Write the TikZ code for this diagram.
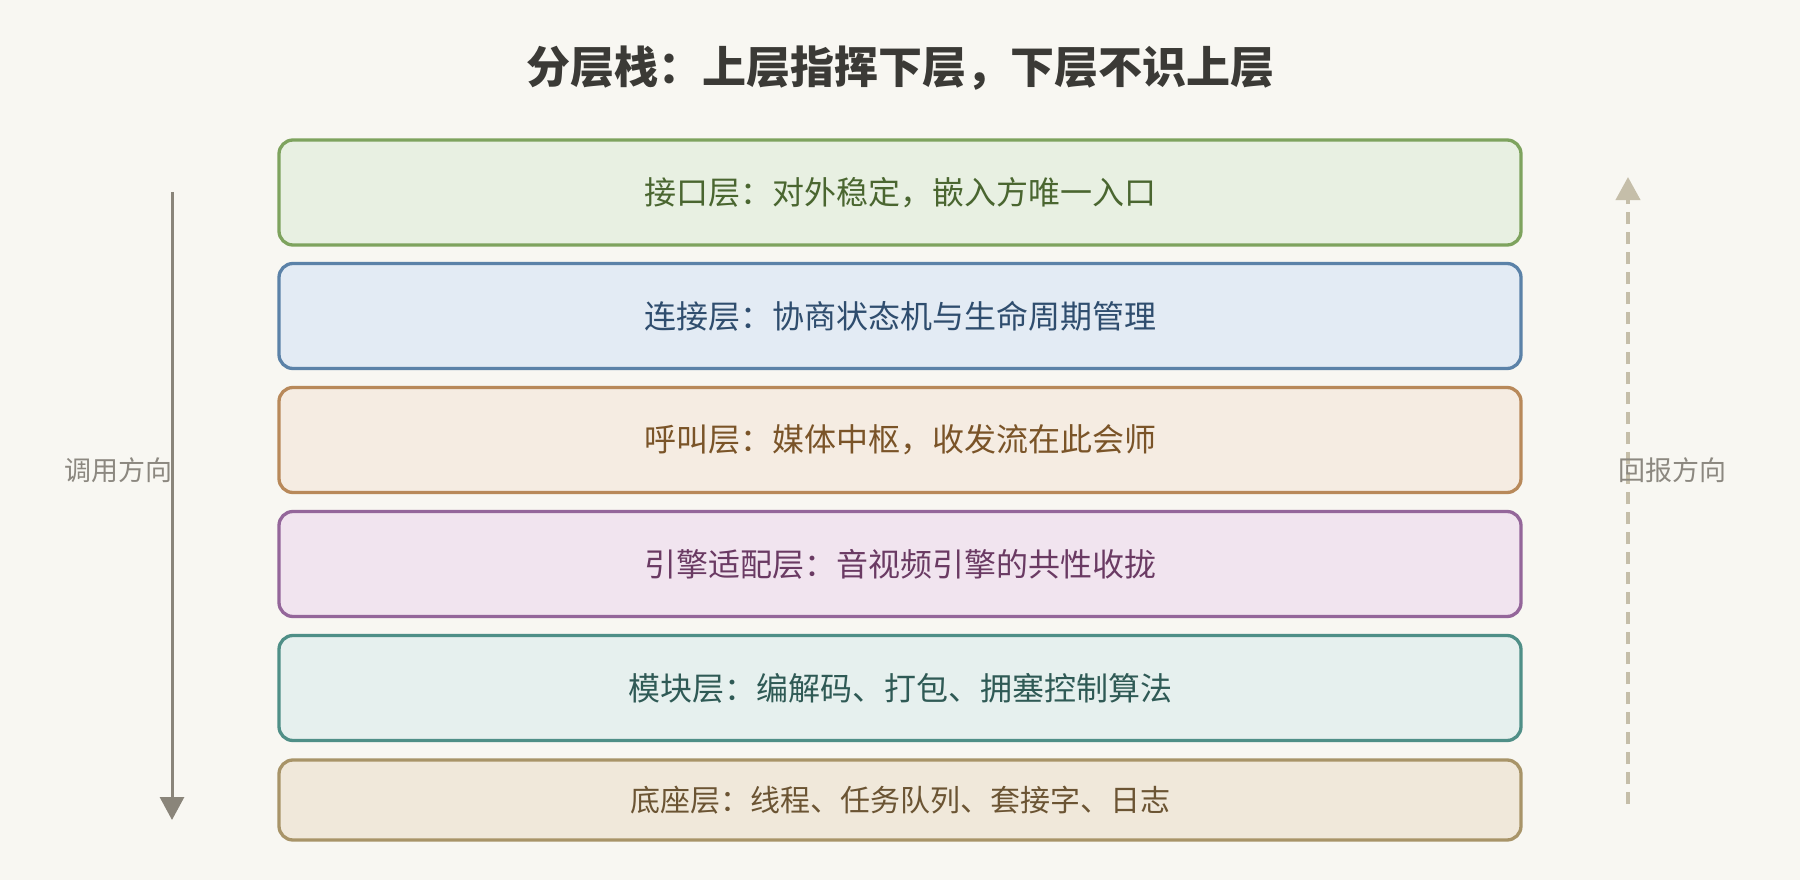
\documentclass[tikz,border=0pt]{standalone}
\usepackage{fontspec}
\setmainfont{Noto Sans CJK SC}
\usetikzlibrary{arrows.meta}
\definecolor{bg}{HTML}{F8F7F2}
\definecolor{titlec}{HTML}{3B3A36}
\definecolor{gA}{HTML}{7EA35E}\definecolor{gAf}{HTML}{E8F0E2}\definecolor{gAt}{HTML}{4A6630}
\definecolor{gB}{HTML}{5B82A8}\definecolor{gBf}{HTML}{E3EBF4}\definecolor{gBt}{HTML}{2F4D6E}
\definecolor{gC}{HTML}{B8895A}\definecolor{gCf}{HTML}{F5ECE2}\definecolor{gCt}{HTML}{7A5428}
\definecolor{gD}{HTML}{94669A}\definecolor{gDf}{HTML}{F1E4EF}\definecolor{gDt}{HTML}{6A3A63}
\definecolor{gE}{HTML}{4F8F87}\definecolor{gEf}{HTML}{E6F0EE}\definecolor{gEt}{HTML}{2F5A55}
\definecolor{gF}{HTML}{A89468}\definecolor{gFf}{HTML}{F0E8DA}\definecolor{gFt}{HTML}{6B5433}
\definecolor{downc}{HTML}{8A857A}
\definecolor{upc}{HTML}{C5BEA9}
\definecolor{labc}{HTML}{8C8880}
\tikzset{
  layerbox/.style={rounded corners=14pt, line width=3.3pt, minimum width=1242pt,
    minimum height=105pt, inner sep=0pt, font=\fontsize{32}{38}\selectfont},
  sidelabel/.style={font=\fontsize{27}{32}\selectfont, text=labc, inner sep=0pt},
}
\begin{document}
\begin{tikzpicture}[x=1pt,y=-1pt]
\fill[bg] (0,0) rectangle (1800,880);
\useasboundingbox (0,0) rectangle (1800,880);
\node[font=\bfseries\fontsize{44}{52}\selectfont, text=titlec] (title) at (900,68.5) {分层栈：上层指挥下层，下层不识上层};
\node[layerbox, draw=gA, fill=gAf, text=gAt] (l1) at (900,192.5) {接口层：对外稳定，嵌入方唯一入口};
\node[layerbox, draw=gB, fill=gBf, text=gBt] (l2) at (900,316) {连接层：协商状态机与生命周期管理};
\node[layerbox, draw=gC, fill=gCf, text=gCt] (l3) at (900,440) {呼叫层：媒体中枢，收发流在此会师};
\node[layerbox, draw=gD, fill=gDf, text=gDt] (l4) at (900,564) {引擎适配层：音视频引擎的共性收拢};
\node[layerbox, draw=gE, fill=gEf, text=gEt] (l5) at (900,688) {模块层：编解码、打包、拥塞控制算法};
\node[layerbox, draw=gF, fill=gFf, text=gFt, minimum height=80pt, font=\fontsize{30}{36}\selectfont] (l6) at (900,800) {底座层：线程、任务队列、套接字、日志};
\coordinate (dtop) at (172,192);
\coordinate (dbot) at (172,820);
\coordinate (ubot) at (1628,804);
\coordinate (utop) at (1628,177);
\draw[downc, line width=3pt, -{Triangle[width=24pt,length=23pt]}] (dtop) -- (dbot);
\draw[upc, line width=4pt, dash pattern=on 12pt off 8pt, -{Triangle[width=24pt,length=23pt]}] (ubot) -- (utop);
\node[sidelabel] (lleft) at (118,470) {调用方向};
\node[sidelabel] (lright) at (1672,470) {回报方向};
\end{tikzpicture}
\end{document}
